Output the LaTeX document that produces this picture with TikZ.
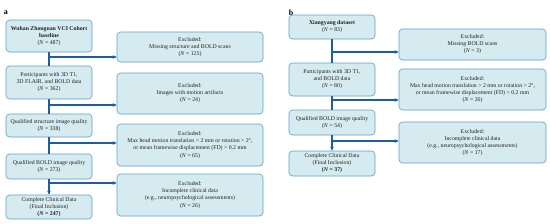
\documentclass[tikz,border=0pt]{standalone}
\usepackage{fontspec}
\setmainfont{Liberation Serif}
\usetikzlibrary{arrows.meta}
\definecolor{boxfill}{HTML}{D5EBF0}
\definecolor{boxline}{HTML}{5E9FC6}
\definecolor{flow}{HTML}{1D5F9E}
\definecolor{txt}{HTML}{222222}
\newcommand{\NN}{\textit{N}}
\tikzset{
  box/.style={draw=boxline, fill=boxfill, rounded corners=3.5pt, line width=0.6pt,
    align=center, text=txt, font=\fontsize{5.8}{7.1}\selectfont, inner sep=1pt},
  leftbox/.style={box, minimum width=86pt},
  exbox/.style={box, minimum width=146pt},
  flowline/.style={draw=flow, line width=1.3pt},
  flowarrow/.style={flowline, -{Stealth[length=4pt,width=3.6pt]}},
  panel/.style={font=\fontsize{8}{9}\selectfont\bfseries, text=black, inner sep=0pt}
}
\begin{document}
\begin{tikzpicture}[x=1pt,y=-1pt]
\useasboundingbox (0,0) rectangle (550,223);

% panel labels
\node[panel] (la) at (6,13) {a};
\node[panel] (lb) at (291,13) {b};

% ---------- panel a ----------
\node[leftbox, minimum height=32pt] (a1) at (49,36) {\textbf{Wuhan Zhongnan VCI Cohort}\\\textbf{baseline}\\(\NN{} = 487)};
\node[leftbox, minimum height=33pt] (a2) at (49,82.5) {Participants with 3D T1,\\3D FLAIR, and BOLD data\\(\NN{} = 362)};
\node[leftbox, minimum height=23pt] (a3) at (49,125.5) {Qualified structure image quality\\(\NN{} = 338)};
\node[leftbox, minimum height=25pt] (a4) at (49,166.5) {Qualified BOLD image quality\\(\NN{} = 273)};
\node[leftbox, minimum height=24pt] (a5) at (49,207) {Complete Clinical Data\\(Final Inclusion)\\\textbf{(\NN{} = 247)}};

\node[exbox, minimum height=30pt] (e1) at (190,47) {Excluded:\\Missing structure and BOLD scans\\(\NN{} = 125)};
\node[exbox, minimum height=41pt] (e2) at (190,93.5) {Excluded:\\Images with motion artifacts\\(\NN{} = 24)};
\node[exbox, minimum height=42pt] (e3) at (190,145) {Excluded:\\Max head motion translation > 2 mm or rotation > 2°,\\or mean framewise displacement (FD) > 0.2 mm\\(\NN{} = 65)};
\node[exbox, minimum height=42pt] (e4) at (190,195) {Excluded:\\Incomplete clinical data\\(e.g., neuropsychological assessments)\\(\NN{} = 26)};

\draw[flowline] (a1.south) -- (a2.north);
\draw[flowline] (a2.south) -- (a3.north);
\draw[flowline] (a3.south) -- (a4.north);
\draw[flowarrow] (a4.south) -- (a5.north);

\coordinate (ja1) at (49,57);
\coordinate (ja2) at (49,105);
\coordinate (ja3) at (49,143);
\coordinate (ja4) at (49,183);
\draw[flowarrow] (ja1) -- (e1.west |- ja1);
\draw[flowarrow] (ja2) -- (e2.west |- ja2);
\draw[flowarrow] (ja3) -- (e3.west |- ja3);
\draw[flowarrow] (ja4) -- (e4.west |- ja4);

% ---------- panel b ----------
\node[leftbox, minimum height=24pt] (b1) at (332,27) {\textbf{Xiangyang dataset}\\(\NN{} = 83)};
\node[leftbox, minimum height=33pt] (b2) at (332,79.5) {Participants with 3D T1,\\and BOLD data\\(\NN{} = 80)};
\node[leftbox, minimum height=25pt] (b3) at (332,122.5) {Qualified BOLD image quality\\(\NN{} = 54)};
\node[leftbox, minimum height=25pt] (b4) at (332,163.5) {Complete Clinical Data\\(Final Inclusion)\\\textbf{(\NN{} = 37)}};

\node[exbox, minimum width=147pt, minimum height=31pt] (f1) at (472.5,44.5) {Excluded:\\Missing BOLD scans\\(\NN{} = 3)};
\node[exbox, minimum width=147pt, minimum height=41pt] (f2) at (472.5,89.5) {Excluded:\\Max head motion translation > 2 mm or rotation > 2°,\\or mean framewise displacement (FD) > 0.2 mm\\(\NN{} = 26)};
\node[exbox, minimum width=147pt, minimum height=41pt] (f3) at (472.5,142.5) {Excluded:\\Incomplete clinical data\\(e.g., neuropsychological assessments)\\(\NN{} = 17)};

\draw[flowline] (b1.south) -- (b2.north);
\draw[flowline] (b2.south) -- (b3.north);
\draw[flowarrow] (b3.south) -- (b4.north);

\coordinate (jb1) at (332,52);
\coordinate (jb2) at (332,100);
\coordinate (jb3) at (332,141);
\draw[flowarrow] (jb1) -- (f1.west |- jb1);
\draw[flowarrow] (jb2) -- (f2.west |- jb2);
\draw[flowarrow] (jb3) -- (f3.west |- jb3);
\end{tikzpicture}
\end{document}
